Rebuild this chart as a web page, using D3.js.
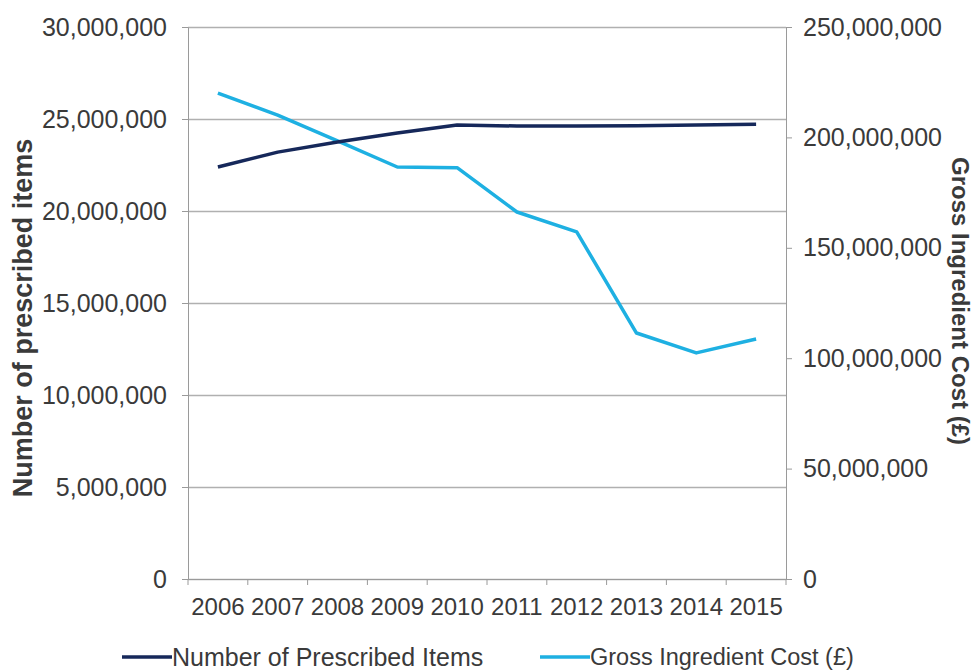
<!DOCTYPE html>
<html>
<head>
<meta charset="utf-8">
<script src="https://cdn.jsdelivr.net/npm/d3@7"></script>
<style>
  body { margin: 0; background: #fff; }
  text { font-family: "Liberation Sans", Arial, sans-serif; fill: #3a3a3a; }
  .axis path, .axis line { stroke: #9a9a9a; }
</style>
</head>
<body>
<svg id="chart"></svg>
<script>
// values
const years = ["2006","2007","2008","2009","2010","2011","2012","2013","2014","2015"];
const prescribedItems = [22390000, 23200000, 23750000, 24240000, 24670000, 24620000, 24620000, 24630000, 24680000, 24720000];
const ingredientCost = [220100000, 210100000, 198400000, 186600000, 186300000, 166200000, 157200000, 111400000, 102400000, 108700000];
const leftTicks = [0, 5000000, 10000000, 15000000, 20000000, 25000000, 30000000];
const rightTicks = [0, 50000000, 100000000, 150000000, 200000000, 250000000];

const W = 976, H = 671;
const margin = {top: 27, right: 190, bottom: 92, left: 188};
const width = W - margin.left - margin.right;
const height = H - margin.top - margin.bottom;

const svg = d3.select("#chart").attr("width", W).attr("height", H);
const chart = svg.append("g").attr("transform", `translate(${margin.left},${margin.top})`);

const x = d3.scaleBand().domain(years).range([0, width]).padding(0);
const yL = d3.scaleLinear().domain([0, 30000000]).range([height, 0]);
const yR = d3.scaleLinear().domain([0, 250000000]).range([height, 0]);

// gridlines
chart.append("g")
  .attr("class", "grid")
  .call(d3.axisLeft(yL).tickValues(leftTicks).tickSize(-width).tickFormat(""))
  .call(g => g.select(".domain").remove())
  .call(g => g.selectAll("line").attr("stroke", "#b0b0b0").attr("stroke-width", 1.3));

// left axis
chart.append("g")
  .attr("class", "axis")
  .call(d3.axisLeft(yL).tickValues(leftTicks).tickSize(6).tickSizeOuter(0).tickPadding(15).tickFormat(d3.format(",")))
  .call(g => g.selectAll("text").style("font-size", "25px"));

// right axis
chart.append("g")
  .attr("class", "axis")
  .attr("transform", `translate(${width},0)`)
  .call(d3.axisRight(yR).tickValues(rightTicks).tickSize(6).tickSizeOuter(0).tickPadding(11).tickFormat(d3.format(",")))
  .call(g => g.selectAll("text").style("font-size", "25px"));

// bottom axis: labels centred in bands, ticks at band edges
const xAxisG = chart.append("g")
  .attr("class", "axis")
  .attr("transform", `translate(0,${height})`)
  .call(d3.axisBottom(x).tickSize(0).tickPadding(19))
  .call(g => g.selectAll("text").style("font-size", "24px"));
xAxisG.selectAll(".edge")
  .data(years.map(d => x(d)).concat([width]))
  .enter().append("line")
  .attr("class", "edge")
  .attr("x1", d => d).attr("x2", d => d)
  .attr("y1", 0).attr("y2", 6)
  .attr("stroke", "#9a9a9a");

// lines
const lineL = d3.line().x((d, i) => x(years[i]) + x.bandwidth() / 2).y(d => yL(d));
const lineR = d3.line().x((d, i) => x(years[i]) + x.bandwidth() / 2).y(d => yR(d));

chart.append("path")
  .datum(ingredientCost)
  .attr("fill", "none")
  .attr("stroke", "#1eb0e2")
  .attr("stroke-width", 3.5)
  .attr("stroke-linejoin", "round")
  .attr("d", lineR);

chart.append("path")
  .datum(prescribedItems)
  .attr("fill", "none")
  .attr("stroke", "#16285a")
  .attr("stroke-width", 3.5)
  .attr("stroke-linejoin", "round")
  .attr("d", lineL);

// axis titles
svg.append("text")
  .attr("transform", "translate(32,318) rotate(-90)")
  .attr("text-anchor", "middle")
  .style("font-size", "27px")
  .style("font-weight", "bold")
  .text("Number of prescribed items");

svg.append("text")
  .attr("transform", "translate(952,301) rotate(90)")
  .attr("text-anchor", "middle")
  .style("font-size", "24px")
  .style("font-weight", "bold")
  .text("Gross Ingredient Cost (£)");

// legend
const legend = [
  {name: "Number of Prescribed Items", color: "#16285a", x: 122, size: 25},
  {name: "Gross Ingredient Cost (£)", color: "#1eb0e2", x: 540, size: 23.5}
];
const lg = svg.selectAll(".legend")
  .data(legend)
  .enter().append("g")
  .attr("class", "legend")
  .attr("transform", d => `translate(${d.x},657)`);
lg.append("line")
  .attr("x1", 0).attr("x2", 50)
  .attr("stroke", d => d.color)
  .attr("stroke-width", 3.5);
lg.append("text")
  .attr("x", 50)
  .attr("dy", "0.35em")
  .style("font-size", d => d.size + "px")
  .text(d => d.name);
</script>
</body>
</html>
